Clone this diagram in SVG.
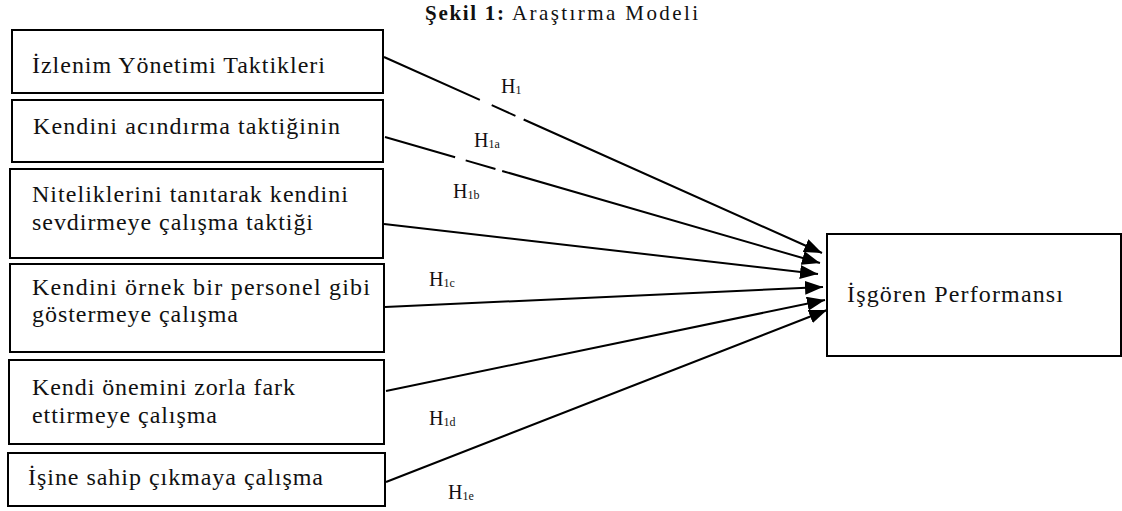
<svg xmlns="http://www.w3.org/2000/svg" width="1122" height="511" viewBox="0 0 1122 511">
<style>
.box{fill:#fff;stroke:#000;stroke-width:2}
.t{font-family:"Liberation Serif","Times New Roman",serif;font-size:24px;fill:#111}
.h{font-family:"Liberation Serif","Times New Roman",serif;font-size:20px;fill:#111}
.s{font-size:12px}
.c{fill:none;stroke:#000;stroke-width:2}
</style>
<defs>
<marker id="ah" markerUnits="userSpaceOnUse" markerWidth="20" markerHeight="14" refX="18" refY="7" orient="auto">
<path d="M0,0 L18,7 L0,14 z" fill="#000"/>
</marker>
</defs>
<rect width="1122" height="511" fill="#fff"/>
<text id="title" class="t" y="20" style="font-size:21px"><tspan x="425" font-weight="bold" textLength="79" lengthAdjust="spacing">Şekil 1:</tspan><tspan x="512" textLength="186" lengthAdjust="spacing">Araştırma Modeli</tspan></text>
<g id="connectors">
<line class="c" x1="384" y1="57" x2="822" y2="253" stroke-dasharray="105 13 26 9 1000" marker-end="url(#ah)"/>
<line class="c" x1="385" y1="137" x2="820" y2="263" stroke-dasharray="73 11 31 7 1000" marker-end="url(#ah)"/>
<line class="c" x1="384" y1="224" x2="818" y2="274" marker-end="url(#ah)"/>
<line class="c" x1="385" y1="307" x2="823" y2="287" marker-end="url(#ah)"/>
<line class="c" x1="386" y1="391" x2="825" y2="300" marker-end="url(#ah)"/>
<line class="c" x1="386" y1="482" x2="827" y2="310" marker-end="url(#ah)"/>
</g>
<g id="labels">
<text class="h" x="501" y="93">H<tspan class="s" dy="1">1</tspan></text>
<text class="h" x="474" y="147">H<tspan class="s" dy="1">1a</tspan></text>
<text class="h" x="453" y="198">H<tspan class="s" dy="1">1b</tspan></text>
<text class="h" x="429" y="286">H<tspan class="s" dy="1">1c</tspan></text>
<text class="h" x="429" y="425">H<tspan class="s" dy="1">1d</tspan></text>
<text class="h" x="448" y="499">H<tspan class="s" dy="1">1e</tspan></text>
</g>
<g id="n1"><rect class="box" x="12" y="30" width="371" height="63"/><text class="t" x="32" y="73" textLength="293" lengthAdjust="spacing">İzlenim Yönetimi Taktikleri</text></g>
<g id="n2"><rect class="box" x="12" y="100" width="371" height="62"/><text class="t" x="33" y="134" textLength="307" lengthAdjust="spacing">Kendini acındırma taktiğinin</text></g>
<g id="n3"><rect class="box" x="10" y="169" width="373" height="89"/><text class="t" x="32" y="202" textLength="316" lengthAdjust="spacing">Niteliklerini tanıtarak kendini</text><text class="t" x="32" y="230" textLength="281" lengthAdjust="spacing">sevdirmeye çalışma taktiği</text></g>
<g id="n4"><rect class="box" x="10" y="264" width="374" height="88"/><text class="t" x="32" y="295" textLength="338" lengthAdjust="spacing">Kendini örnek bir personel gibi</text><text class="t" x="32" y="322" textLength="206" lengthAdjust="spacing">göstermeye çalışma</text></g>
<g id="n5"><rect class="box" x="9" y="360" width="375" height="84"/><text class="t" x="32" y="395" textLength="263" lengthAdjust="spacing">Kendi önemini zorla fark</text><text class="t" x="32" y="423" textLength="185" lengthAdjust="spacing">ettirmeye çalışma</text></g>
<g id="n6"><rect class="box" x="8" y="453" width="377" height="53"/><text class="t" x="28" y="485" textLength="295" lengthAdjust="spacing">İşine sahip çıkmaya çalışma</text></g>
<g id="n7"><rect class="box" x="827" y="234" width="294" height="122"/><text class="t" x="847" y="302" textLength="216" lengthAdjust="spacing">İşgören Performansı</text></g>
</svg>
